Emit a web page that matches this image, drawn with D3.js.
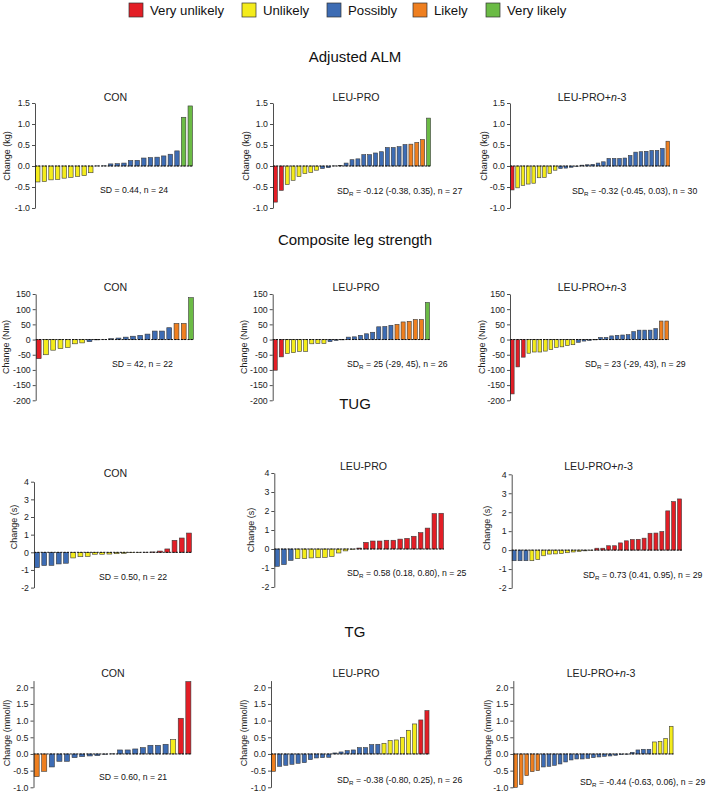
<!DOCTYPE html>
<html><head><meta charset="utf-8">
<script src="https://cdn.jsdelivr.net/npm/d3@7"></script>
<style>body{margin:0;background:#fff}svg{display:block;font-family:"Liberation Sans",Arial,sans-serif}</style>
</head><body><svg id="c" width="709" height="792"></svg>
<script>
// ---------- DATA ----------
const legendLabels = ["Very unlikely","Unlikely","Possibly","Likely","Very likely"];
const sectionTitles = ["Adjusted ALM","Composite leg strength","TUG","TG"];
const groupNames = ["CON","LEU-PRO","LEU-PRO+n-3"];
const yLabels = ["Change (kg)","Change (Nm)","Change (s)","Change (mmol/l)"];

const ticksALM = [-1,-0.5,0,0.5,1,1.5];
const ticksLeg = [-200,-150,-100,-50,0,50,100,150];
const ticksTUG = [-2,-1,0,1,2,3,4];
const ticksTG  = [-1,-0.5,0,0.5,1,1.5,2];

// category codes: 0 Very unlikely, 1 Unlikely, 2 Possibly, 3 Likely, 4 Very likely
const almCon = [-0.38,-0.37,-0.33,-0.32,-0.29,-0.27,-0.25,-0.23,-0.16,0.003,0.005,0.05,0.055,0.07,0.13,0.135,0.19,0.20,0.21,0.24,0.28,0.36,1.16,1.43];
const almConCat = [1,1,1,1,1,1,1,1,1,2,2,2,2,2,2,2,2,2,2,2,2,2,4,4];
const almLeu = [-0.86,-0.58,-0.44,-0.34,-0.25,-0.18,-0.15,-0.10,-0.06,-0.04,0.003,0.01,0.07,0.15,0.17,0.27,0.27,0.31,0.34,0.44,0.44,0.46,0.51,0.52,0.56,0.63,1.14];
const almLeuCat = [0,0,1,1,1,1,1,1,2,2,2,2,2,2,2,2,2,2,2,2,2,2,2,3,3,3,4];
const almN3 = [-0.57,-0.52,-0.46,-0.43,-0.41,-0.28,-0.27,-0.18,-0.10,-0.06,-0.05,-0.03,-0.01,0.02,0.03,0.04,0.07,0.10,0.18,0.18,0.18,0.19,0.25,0.33,0.34,0.35,0.37,0.37,0.42,0.59];
const almN3Cat = [0,1,1,1,1,1,1,1,1,2,2,2,2,2,2,2,2,2,2,2,2,2,2,2,2,2,2,2,2,3];

const legCon = [-63,-50,-35,-30,-26,-14,-11,-7,-1,0.3,3,5,8,11,14,18,28,28,39,53,53,138];
const legConCat = [0,1,1,1,1,1,1,2,2,2,2,2,2,2,2,2,2,2,2,3,3,4];
const legLeu = [-101,-57,-46,-43,-39,-39,-14,-13,-13,-7,-3,-1,8,9,14,19,24,42,43,47,50,58,60,66,66,122];
const legLeuCat = [0,0,1,1,1,1,1,1,1,2,2,2,2,2,2,2,2,2,2,2,3,3,3,3,3,4];
const legN3 = [-179,-90,-58,-45,-41,-41,-38,-33,-26,-24,-20,-17,-9,-5,-3,-1,7,7,12,14,15,16,26,31,31,31,36,61,61];
const legN3Cat = [0,0,0,1,1,1,1,1,1,1,1,1,2,2,2,2,2,2,2,2,2,2,2,2,2,2,2,3,3];

const tugCon = [-0.87,-0.75,-0.74,-0.66,-0.62,-0.32,-0.25,-0.23,-0.11,-0.11,-0.10,-0.08,-0.06,-0.02,-0.01,0.005,0.02,0.07,0.19,0.68,0.81,1.09];
const tugConCat = [2,2,2,2,2,1,1,1,1,1,1,1,1,1,1,0,0,0,0,0,0,0];
const tugLeu = [-0.91,-0.82,-0.60,-0.51,-0.50,-0.47,-0.46,-0.44,-0.39,-0.21,-0.10,-0.02,0.05,0.35,0.42,0.42,0.46,0.46,0.52,0.56,0.67,0.86,1.10,1.86,1.88];
const tugLeuCat = [2,2,2,1,1,1,1,1,1,1,1,1,0,0,0,0,0,0,0,0,0,0,0,0,0];
const tugN3 = [-0.56,-0.56,-0.56,-0.56,-0.50,-0.30,-0.21,-0.20,-0.18,-0.14,-0.10,-0.07,-0.04,-0.01,0.10,0.10,0.23,0.23,0.38,0.49,0.56,0.57,0.63,0.89,0.90,0.98,2.07,2.56,2.70];
const tugN3Cat = [2,2,2,1,1,1,1,1,1,1,1,1,1,1,0,0,0,0,0,0,0,0,0,0,0,0,0,0,0];

const tgCon = [-0.68,-0.52,-0.39,-0.22,-0.22,-0.11,-0.08,-0.06,-0.05,-0.01,0.005,0.12,0.12,0.15,0.19,0.26,0.26,0.29,0.43,1.07,2.17];
const tgConCat = [3,3,2,2,2,2,2,2,2,2,2,2,2,2,2,2,2,2,1,0,0];
const tgLeu = [-0.52,-0.37,-0.34,-0.31,-0.28,-0.26,-0.17,-0.12,-0.11,-0.10,0.03,0.06,0.10,0.12,0.19,0.19,0.28,0.29,0.32,0.40,0.42,0.50,0.71,0.90,1.02,1.30];
const tgLeuCat = [3,2,2,2,2,2,2,2,2,2,2,2,2,2,2,2,2,2,1,1,1,1,1,1,0,0];
const tgN3 = [-1.00,-0.92,-0.65,-0.53,-0.50,-0.39,-0.37,-0.34,-0.30,-0.24,-0.18,-0.15,-0.15,-0.13,-0.11,-0.09,-0.07,-0.06,-0.04,-0.02,-0.01,0.05,0.12,0.14,0.14,0.36,0.38,0.46,0.83];
const tgN3Cat = [3,3,3,3,3,2,2,2,2,2,2,2,2,2,2,2,2,2,2,2,2,2,2,2,2,1,1,1,1];

// annotations: [label, subscript, rest]
const annALM = [["SD","", " = 0.44, n = 24"],["SD","R"," = -0.12 (-0.38, 0.35), n = 27"],["SD","R"," = -0.32 (-0.45, 0.03), n = 30"]];
const annLeg = [["SD","", " = 42, n = 22"],["SD","R"," = 25 (-29, 45), n = 26"],["SD","R"," = 23 (-29, 43), n = 29"]];
const annTUG = [["SD","", " = 0.50, n = 22"],["SD","R"," = 0.58 (0.18, 0.80), n = 25"],["SD","R"," = 0.73 (0.41, 0.95), n = 29"]];
const annTG  = [["SD","", " = 0.60, n = 21"],["SD","R"," = -0.38 (-0.80, 0.25), n = 26"],["SD","R"," = -0.44 (-0.63, 0.06), n = 29"]];

// ---------- STYLE / LAYOUT ----------
const colors = ["#e31e26","#f4ec1c","#3d6cb4","#ef7f1f","#6bbb45"];
const svg = d3.select("#c");
const FONT = '"Liberation Sans", Arial, sans-serif';

// legend
const legX = [129,242,327,413,486];
legendLabels.forEach((t,i)=>{
  svg.append("rect").attr("x",legX[i]).attr("y",3).attr("width",14).attr("height",14)
    .attr("fill",colors[i]).attr("stroke","#333").attr("stroke-width",0.7);
  svg.append("text").attr("x",legX[i]+21).attr("y",15).attr("font-size",13.2).attr("fill","#111").text(t);
});

const sectionY = [62,245,409,637];
sectionTitles.forEach((t,i)=>{
  svg.append("text").attr("x",355).attr("y",sectionY[i]).attr("text-anchor","middle")
    .attr("font-size",15).attr("fill","#111").text(t);
});

const rows = [
  {domain:[-1,1.5], ticks:ticksALM, dec:true, data:[[almCon,almConCat],[almLeu,almLeuCat],[almN3,almN3Cat]], ann:annALM, label:yLabels[0],
   panels:[{x0:35,x1:193,yTop:103,yBot:208,subX:115.5,subY:100.5,lx:7,ly:156,ax:100,ay:192.5},
           {x0:273,x1:431,yTop:103,yBot:208,subX:356,subY:100.5,lx:246,ly:156,ax:337,ay:193.5},
           {x0:510,x1:670,yTop:103,yBot:208,subX:592,subY:100.5,lx:484,ly:156,ax:572,ay:194}]},
  {domain:[-200,150], ticks:ticksLeg, dec:false, data:[[legCon,legConCat],[legLeu,legLeuCat],[legN3,legN3Cat]], ann:annLeg, label:yLabels[1],
   panels:[{x0:35.7,x1:194,yTop:294,yBot:400.3,subX:115.5,subY:291,lx:6,ly:347,ax:112,ay:366.5},
           {x0:272.7,x1:430,yTop:294,yBot:400.3,subX:356,subY:291,lx:243.5,ly:347,ax:347,ay:367},
           {x0:510,x1:669,yTop:294,yBot:400.3,subX:592,subY:291,lx:482,ly:347,ax:585,ay:367}]},
  {domain:[-2,4], ticks:ticksTUG, dec:false, data:[[tugCon,tugConCat],[tugLeu,tugLeuCat],[tugN3,tugN3Cat]], ann:annTUG, label:yLabels[2],
   panels:[{x0:34,x1:192,yTop:481.7,yBot:587.6,subX:115.5,subY:477,lx:14,ly:527,ax:99,ay:580},
           {x0:274.3,x1:444,yTop:473,yBot:587,subX:363.5,subY:469.5,lx:251,ly:530,ax:347,ay:575.5},
           {x0:511.7,x1:682,yTop:474.3,yBot:588,subX:598.5,subY:469.5,lx:487,ly:528,ax:583,ay:577.5}]},
  {domain:[-1,2.2], ticks:ticksTG, dec:true, data:[[tgCon,tgConCat],[tgLeu,tgLeuCat],[tgN3,tgN3Cat]], ann:annTG, label:yLabels[3],
   panels:[{x0:33.5,x1:191.5,yTop:680.6,yBot:787.3,subX:113,subY:677,lx:6.5,ly:733,ax:99,ay:780},
           {x0:271,x1:429.5,yTop:680.6,yBot:787.3,subX:356,subY:677,lx:244,ly:733,ax:337,ay:782.5},
           {x0:513.3,x1:673.5,yTop:680.6,yBot:787.3,subX:601,subY:677,lx:487.5,ly:733,ax:580,ay:785}]}
];

rows.forEach(row=>{
  row.panels.forEach((p,pi)=>{
    const [vals,cats] = row.data[pi];
    const g = svg.append("g");
    const y = d3.scaleLinear().domain(row.domain).range([p.yBot,p.yTop]);
    const x = d3.scaleBand().domain(d3.range(vals.length)).range([p.x0,p.x1]).paddingInner(0.33).paddingOuter(0.08);
    g.selectAll("rect.bar").data(vals).join("rect").attr("class","bar")
      .attr("x",(d,i)=>x(i)).attr("width",x.bandwidth())
      .attr("y",d=>y(Math.max(0,d))).attr("height",d=>Math.abs(y(d)-y(0)))
      .attr("fill",(d,i)=>colors[cats[i]]).attr("stroke","#3a3a3a").attr("stroke-width",0.6);
    g.append("line").attr("x1",p.x0).attr("x2",p.x1).attr("y1",y(0)).attr("y2",y(0))
      .attr("stroke","#000").attr("stroke-width",0.9).attr("stroke-dasharray","2,1.3");
    const axis = d3.axisLeft(y).tickValues(row.ticks).tickSize(3).tickSizeOuter(0).tickPadding(2)
      .tickFormat(d=> row.dec ? d.toFixed(1) : String(d));
    const ag = g.append("g").attr("transform",`translate(${p.x0},0)`).call(axis);
    ag.select(".domain").attr("stroke","#222").attr("stroke-width",0.8);
    ag.selectAll(".tick line").attr("stroke","#222").attr("stroke-width",0.8);
    ag.selectAll(".tick text").attr("font-family",FONT).attr("font-size",8.8).attr("fill","#222");
    // y label
    g.append("text").attr("transform",`translate(${p.lx},${p.ly}) rotate(-90)`)
      .attr("text-anchor","middle").attr("dominant-baseline","central")
      .attr("font-size",9).attr("fill","#222").text(row.label);
    // subtitle
    const st = g.append("text").attr("x",p.subX).attr("y",p.subY).attr("text-anchor","middle")
      .attr("font-size",10.6).attr("font-weight","normal").attr("fill","#222");
    const name = groupNames[pi];
    if (name.endsWith("n-3")) {
      st.append("tspan").text("LEU-PRO+");
      st.append("tspan").attr("font-style","italic").text("n");
      st.append("tspan").text("-3");
    } else st.text(name);
    // annotation
    const a = row.ann[pi];
    const at = g.append("text").attr("x",p.ax).attr("y",p.ay).attr("font-size",8.7).attr("fill","#111");
    at.append("tspan").text(a[0]);
    if (a[1]) {
      at.append("tspan").attr("font-size",6.2).attr("dy",2.2).text(a[1]);
      at.append("tspan").attr("dy",-2.2).text(a[2]);
    } else at.append("tspan").text(a[2]);
  });
});
</script></body></html>
